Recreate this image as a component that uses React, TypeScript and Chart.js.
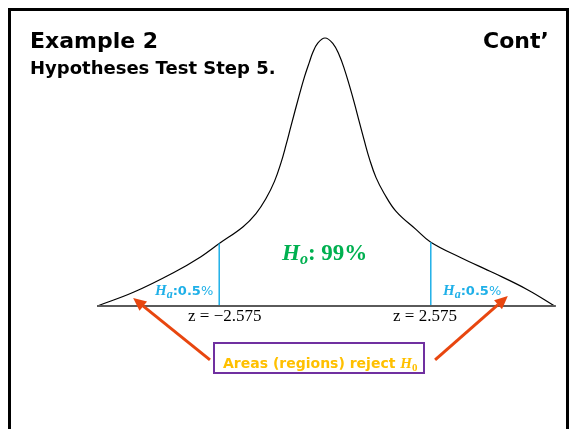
import React, { useEffect, useRef } from "react";
import { Chart, registerables } from "chart.js";

Chart.register(...registerables);

// Curve: z position vs relative height (peak = 100)
const zValues = [-5.54, -4.65, -3.68, -3.02, -2.575, -2.0, -1.68, -1.44, -1.23, -1.07, -0.95, -0.83, -0.63, -0.5, -0.38, -0.3, -0.18, 0, 0.19, 0.35, 0.47, 0.59, 0.71, 0.83, 0.96, 1.08, 1.24, 1.44, 1.73, 2.22, 2.575, 3.31, 4.11, 4.94, 5.59];
const heights = [0, 5.2, 12.5, 18.4, 23.3, 29.5, 34.5, 40, 46.5, 53.5, 60, 67, 78.5, 85.5, 91, 94.5, 98, 100, 98, 93.5, 88.5, 82.5, 76, 69, 61.5, 55, 48, 42, 35.3, 28.5, 23.8, 18.0, 12.3, 6.0, 0];

// Critical values and the curve height there
const criticalZ = [-2.575, 2.575];
const criticalHeights = [23.3, 23.8];

// Axis ranges
const xRange = [-5.55, 5.55];
const yRange = [0, 100];
const baselineZ = [-5.55, 5.62];

// Annotation arrows (data coordinates): tail -> tip
const arrowTails = [[-2.8, -20.1], [2.68, -20.1]];
const arrowTips = [[-4.67, 3.0], [4.45, 3.7]];

const SANS = '"DejaVu Sans", Verdana, sans-serif';
const SERIF = '"Liberation Serif", "Times New Roman", serif';

function Label(props: { left: number; baseline: number; size: number; serif?: boolean; bold?: boolean; color?: string; children: any }) {
  const off = props.serif ? 0.8375 : 0.846;
  return (
    <div
      style={{
        position: "absolute",
        left: props.left,
        top: props.baseline - off * props.size,
        fontFamily: props.serif ? SERIF : SANS,
        fontSize: props.size,
        lineHeight: `${props.size}px`,
        fontWeight: props.bold ? "bold" : "normal",
        color: props.color || "#000",
        whiteSpace: "nowrap",
      }}
    >
      {props.children}
    </div>
  );
}

const arrowPlugin = {
  id: "arrows",
  afterDatasetsDraw(chart: any) {
    const { ctx, scales } = chart;
    const xs = scales.x;
    const ys = scales.y;
    ctx.save();
    ctx.strokeStyle = "#E8460F";
    ctx.fillStyle = "#E8460F";
    ctx.lineWidth = 3;
    for (let i = 0; i < arrowTails.length; i++) {
      const x1 = xs.getPixelForValue(arrowTails[i][0]);
      const y1 = ys.getPixelForValue(arrowTails[i][1]);
      const x2 = xs.getPixelForValue(arrowTips[i][0]);
      const y2 = ys.getPixelForValue(arrowTips[i][1]);
      const ang = Math.atan2(y2 - y1, x2 - x1);
      const headLen = 13;
      const headW = 6;
      const bx = x2 - headLen * Math.cos(ang);
      const by = y2 - headLen * Math.sin(ang);
      ctx.beginPath();
      ctx.moveTo(x1, y1);
      ctx.lineTo(bx, by);
      ctx.stroke();
      ctx.beginPath();
      ctx.moveTo(x2, y2);
      ctx.lineTo(bx + headW * Math.sin(ang), by - headW * Math.cos(ang));
      ctx.lineTo(bx - headW * Math.sin(ang), by + headW * Math.cos(ang));
      ctx.closePath();
      ctx.fill();
    }
    ctx.restore();
  },
};

export default function App() {
  const ref = useRef<HTMLCanvasElement>(null);

  useEffect(() => {
    if (!ref.current) return;
    const curve = zValues.map((z, i) => ({ x: z, y: heights[i] }));
    const chart = new Chart(ref.current, {
      type: "scatter",
      data: {
        datasets: [
          {
            data: baselineZ.map((z) => ({ x: z, y: 0 })),
            showLine: true,
            borderColor: "#5a5a5a",
            borderWidth: 2,
            pointRadius: 0,
            clip: false as any,
          },
          {
            data: [
              { x: criticalZ[0], y: 0 },
              { x: criticalZ[0], y: criticalHeights[0] },
            ],
            showLine: true,
            borderColor: "#1FB0E8",
            borderWidth: 1.5,
            pointRadius: 0,
            clip: false as any,
          },
          {
            data: [
              { x: criticalZ[1], y: 0 },
              { x: criticalZ[1], y: criticalHeights[1] },
            ],
            showLine: true,
            borderColor: "#1FB0E8",
            borderWidth: 1.5,
            pointRadius: 0,
            clip: false as any,
          },
          {
            data: curve,
            showLine: true,
            borderColor: "#000",
            borderWidth: 1.2,
            pointRadius: 0,
            tension: 0.4,
            clip: false as any,
          },
        ],
      },
      options: {
        animation: false,
        responsive: true,
        maintainAspectRatio: false,
        layout: { padding: { left: 97, right: 24, top: 38, bottom: 123 } },
        scales: {
          x: { type: "linear", min: xRange[0], max: xRange[1], display: false },
          y: { type: "linear", min: yRange[0], max: yRange[1], display: false },
        },
        plugins: { legend: { display: false }, tooltip: { enabled: false } },
        events: [],
      },
      plugins: [arrowPlugin],
    });
    return () => chart.destroy();
  }, []);

  const sub = { fontSize: "0.7em", position: "relative" as const, top: "0.25em" };
  const hStyle = { fontFamily: SERIF, fontStyle: "italic" as const, fontWeight: "bold" as const, fontSize: 15 };
  const aStyle = { ...sub, fontFamily: SERIF, fontStyle: "italic" as const, fontWeight: "bold" as const, fontSize: 12 };

  return (
    <div style={{ position: "fixed", left: 0, top: 0, width: 577, height: 429, background: "#fff", overflow: "hidden" }}>
      <canvas ref={ref} style={{ position: "absolute", left: 0, top: 0 }} />
      <div style={{ position: "absolute", left: 0, top: 0, width: 577, height: 429 }}>
        <div style={{ position: "absolute", left: 8, top: 8, width: 555, height: 440, border: "3px solid #000" }} />
        <Label left={30} baseline={49} size={22} bold>Example 2</Label>
        <Label left={30} baseline={74} size={18} bold>Hypotheses Test Step 5.</Label>
        <Label left={483} baseline={49} size={22} bold>Cont’</Label>

        <Label left={282} baseline={260} size={23} serif bold color="#00B050">
          <i>H</i><i style={sub}>o</i>: 99%
        </Label>

        <Label left={155} baseline={295} size={13} color="#1FB0E8">
          <span style={hStyle}>H</span>
          <span style={aStyle}>a</span>
          <b>:0.5</b>%
        </Label>
        <Label left={443} baseline={295} size={13} color="#1FB0E8">
          <span style={hStyle}>H</span>
          <span style={aStyle}>a</span>
          <b>:0.5</b>%
        </Label>

        <Label left={188} baseline={321} size={17} serif>z = −2.575</Label>
        <Label left={393} baseline={321} size={17} serif>z = 2.575</Label>

        <div style={{ position: "absolute", left: 213, top: 342, width: 208, height: 28, border: "2px solid #7030A0" }} />
        <Label left={223} baseline={368} size={14} bold color="#FFC000">
          Areas (regions) reject{" "}
          <span style={{ fontFamily: SERIF, fontStyle: "italic", fontSize: 15 }}>H</span>
          <span style={{ ...sub, fontFamily: SERIF, fontSize: 11 }}>0</span>
        </Label>
      </div>
    </div>
  );
}
